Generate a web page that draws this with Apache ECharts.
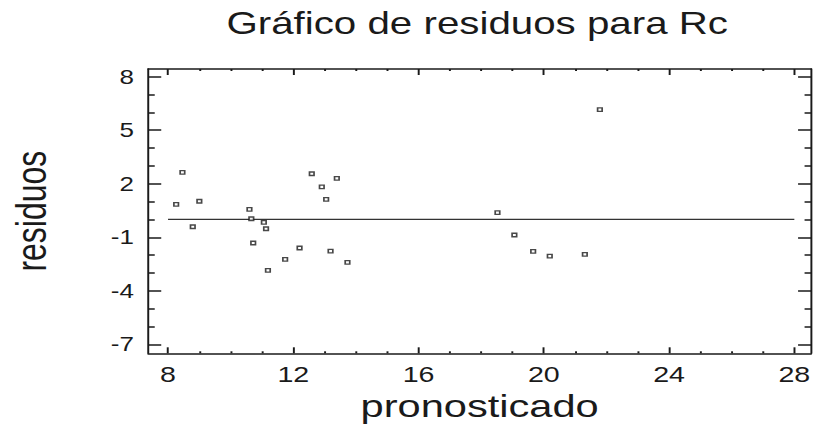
<!DOCTYPE html>
<html>
<head>
<meta charset="utf-8">
<script src="https://cdn.jsdelivr.net/npm/echarts@6/dist/echarts.min.js"></script>
<style>
  html, body { margin: 0; padding: 0; background: #fff; overflow: hidden; }
  #wrap { width: 814px; height: 432px; overflow: hidden; }
  /* the plot is laid out narrow and widened horizontally, like the printed residual plot */
  #chart { width: 626px; height: 432px; transform: scaleX(1.3003); transform-origin: 0 0; }
</style>
</head>
<body>
<div id="wrap"><div id="chart"></div></div>
<script>
// Predicted values and residuals of the Rc regression model
const pronosticado = [8.26, 8.46, 8.79, 9.00, 10.60, 10.66, 10.72, 11.06, 11.13, 11.19, 11.74, 12.20,
                      12.59, 12.91, 13.05, 13.19, 13.39, 13.73, 18.52, 19.06, 19.66, 20.19, 21.31, 21.79];
const residuos     = [0.85, 2.64, -0.41, 1.02, 0.57, 0.04, -1.32, -0.16, -0.52, -2.85, -2.24, -1.60,
                      2.56, 1.83, 1.13, -1.77, 2.30, -2.40, 0.38, -0.87, -1.79, -2.05, -1.96, 6.15];

// Zero-residual reference line across the predicted range
const lineaCeroX = [8, 28];
const lineaCeroY = 0;

// Tick values
const xMajor = [8, 12, 16, 20, 24, 28];
const xMinor = [9, 10, 11, 13, 14, 15, 17, 18, 19, 21, 22, 23, 25, 26, 27];
const yMajor = [-7, -4, -1, 2, 5, 8];
const yMinor = [-6, -5, -3, -2, 0, 1, 3, 4, 6, 7];

const FONT = '"Liberation Sans", Arial, Helvetica, sans-serif';
const INK = '#1a1a1a';
const X_MIN = 7.368, X_MAX = 28.534;
const Y_MIN = -7.5, Y_MAX = 8.43;

function xSide(position, ticks, len, main) {
  return {
    type: 'value', position: position, min: X_MIN, max: X_MAX,
    axisLine: { show: main, onZero: false, lineStyle: { color: INK, width: 1.5 } },
    axisTick: { show: true, inside: true, length: len, customValues: ticks, lineStyle: { color: INK, width: 1.5 } },
    axisLabel: { show: false },
    splitLine: { show: false }
  };
}
function ySide(position, ticks, len, main) {
  return {
    type: 'value', position: position, min: Y_MIN, max: Y_MAX,
    axisLine: { show: main, onZero: false, lineStyle: { color: INK, width: 1.5 } },
    axisTick: { show: true, inside: true, length: len, customValues: ticks, lineStyle: { color: INK, width: 1.5 } },
    axisLabel: { show: false },
    splitLine: { show: false }
  };
}

const xBottom = xSide('bottom', xMajor, 6, true);
xBottom.axisLabel = { show: true, customValues: xMajor, margin: 10, fontSize: 22, color: INK, fontFamily: FONT };
xBottom.name = 'pronosticado';
xBottom.nameLocation = 'middle';
xBottom.nameGap = 31;
xBottom.nameTextStyle = { fontSize: 32, color: INK, fontFamily: FONT };

const yLeft = ySide('left', yMajor, 10, true);
yLeft.axisLabel = { show: true, customValues: yMajor, margin: 11, fontSize: 20, color: INK, fontFamily: FONT };
yLeft.name = 'residuos';
yLeft.nameLocation = 'middle';
yLeft.nameRotate = 90;
yLeft.nameGap = 74;
yLeft.nameTextStyle = { fontSize: 32, color: INK, fontFamily: FONT };

const chart = echarts.init(document.getElementById('chart'), null, { renderer: 'svg' });
chart.setOption({
  animation: false,
  backgroundColor: '#fff',
  title: {
    text: 'Gráfico de residuos para Rc',
    left: 367, top: 8, padding: 0, textAlign: 'center',
    textStyle: { fontSize: 31, fontWeight: 'normal', color: INK, fontFamily: FONT }
  },
  grid: { left: 109, right: 1.5, top: 69, bottom: 78.7, containLabel: false },
  xAxis: [xBottom, xSide('bottom', xMinor, 2, false), xSide('top', xMajor, 6, true), xSide('top', xMinor, 2, false)],
  yAxis: [yLeft, ySide('left', yMinor, 5, false), ySide('right', yMajor, 10, true), ySide('right', yMinor, 5, false)],
  series: [
    {
      type: 'line',
      data: lineaCeroX.map(function (x) { return [x, lineaCeroY]; }),
      symbol: 'none', silent: true,
      lineStyle: { color: '#333', width: 1.3 }, z: 2
    },
    {
      type: 'scatter',
      data: pronosticado.map(function (x, i) { return [x, residuos[i]]; }),
      symbol: 'rect', symbolSize: 3.5,
      itemStyle: { color: '#fff', borderColor: INK, borderWidth: 1.3 }, z: 3
    }
  ]
});
</script>
</body>
</html>
